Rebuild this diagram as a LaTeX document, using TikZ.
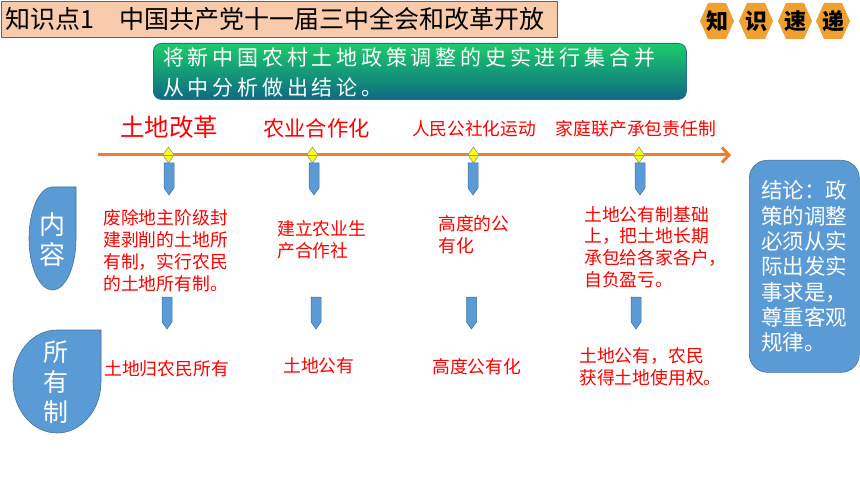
\documentclass[tikz,border=0pt]{standalone}
\usepackage{fontspec}
\setmainfont{Noto Sans CJK SC}
\newfontfamily\gfont[LetterSpace=18]{Noto Sans CJK SC}
\usetikzlibrary{arrows.meta}
\definecolor{titlefill}{HTML}{F8CBAD}
\definecolor{titleedge}{HTML}{7A5C4E}
\definecolor{hexfill}{HTML}{F0A033}
\definecolor{tlorange}{HTML}{ED7D31}
\definecolor{blueA}{HTML}{5B9BD5}
\definecolor{blueEdge}{HTML}{41719C}
\definecolor{redT}{HTML}{FF0000}
\definecolor{greenTop}{HTML}{1CCB6B}
\definecolor{greenBot}{HTML}{0F6A82}
\definecolor{greenEdge}{HTML}{2C6E8A}
\definecolor{diaEdge}{HTML}{8497B0}
\definecolor{diaFill}{HTML}{FFFF00}
\begin{document}
\begin{tikzpicture}[x=1pt,y=-1pt,
  redtext/.style={text=redT, align=left, inner sep=0pt, anchor=west},
  bluedrop/.style={fill=blueA, draw=blueEdge, line width=0.6pt},
  sidetext/.style={text=white, align=center, inner sep=0pt},
  hexbox/.style={fill=hexfill, draw=none},
  hextext/.style={font=\bfseries\fontsize{22}{22}\selectfont, text=black, inner sep=0pt},
  diamondmark/.style={fill=diaFill, draw=diaEdge, line width=0.6pt},
  downmark/.style={fill=blueA, draw=blueEdge, line width=0.5pt}
]
\useasboundingbox (0,0) rectangle (860,484);
\fill[white] (0,0) rectangle (860,484);

% title bar
\node[draw=titleedge, fill=titlefill, line width=1.2pt, minimum width=556pt, minimum height=36pt,
      anchor=north west, inner sep=0pt] (titlebar) at (0.6,0.6) {};
\node[anchor=west, inner sep=0pt, font=\fontsize{25}{25}\selectfont] (title) at (5,19)
  {知识点1　中国共产党十一届三中全会和改革开放};

% hexagons
\foreach \cx/\ch/\nm in {717/知/hexa, 756/识/hexb, 795/速/hexc, 833/递/hexd}{
  \fill[hexbox] (\cx-17,21) -- (\cx-9,3) -- (\cx+9,3) -- (\cx+17,21) -- (\cx+9,39) -- (\cx-9,39) -- cycle;
  \node[hextext] (\nm) at (\cx,21) {\ch};
}

% green intro box
\node[draw=greenEdge, line width=0.8pt, top color=greenTop, bottom color=greenBot, rounded corners=8pt,
      minimum width=533pt, minimum height=56pt, anchor=north west, inner sep=0pt] (intro) at (153,43) {};
\node[anchor=west, inner sep=0pt, text=white, align=left,
      font=\gfont\fontsize{21}{30}\selectfont] (introtext) at (163,72)
  {将新中国农村土地政策调整的史实进行集合并\\从中分析做出结论。};

% timeline
\coordinate (tlstart) at (98,155);
\coordinate (tlend) at (731,155);
\draw[tlorange, line width=3pt, -{Straight Barb[length=7pt,width=15pt]}] (tlstart) -- (tlend);

% timeline labels
\node[text=redT, inner sep=0pt, font=\fontsize{24.5}{24.5}\selectfont] (t1) at (169,127) {土地改革};
\node[text=redT, inner sep=0pt, font=\fontsize{21.3}{21.3}\selectfont] (t2) at (316.5,128) {农业合作化};
\node[text=redT, inner sep=0pt, font=\fontsize{17.7}{17.7}\selectfont] (t3) at (474,129) {人民公社化运动};
\node[text=redT, inner sep=0pt, font=\fontsize{17.8}{17.8}\selectfont] (t4) at (636,129) {家庭联产承包责任制};

% diamonds on the timeline
\foreach \dx in {168.5, 312.5, 473.5, 639}{
  \filldraw[diamondmark] (\dx,147) -- (\dx+5.5,155) -- (\dx,163) -- (\dx-5.5,155) -- cycle;
  \draw[diaEdge, line width=0.5pt] (\dx-5.5,155) -- (\dx+5.5,155);
}

% blue down marks, first row
\foreach \ax in {169, 314, 473, 640}{
  \filldraw[downmark] (\ax-5,163) -- (\ax+5,163) -- (\ax+5,188) -- (\ax,195) -- (\ax-5,188) -- cycle;
}
% blue down marks, second row
\foreach \ax in {167, 316, 471.5, 636}{
  \filldraw[downmark] (\ax-5,297) -- (\ax+5,297) -- (\ax+5,322) -- (\ax,329) -- (\ax-5,322) -- cycle;
}

% side shapes
\filldraw[bluedrop] (76,187) -- (76,238.5) arc[start angle=0, end angle=270, x radius=23.5, y radius=51.5] -- cycle;
\node[sidetext, font=\fontsize{26}{30}\selectfont] (neirong) at (52.5,240) {内\\容};
\filldraw[bluedrop] (101,330) -- (101,381.5) arc[start angle=0, end angle=270, x radius=44, y radius=51.5] -- cycle;
\node[sidetext, font=\fontsize{25}{30}\selectfont] (suoyouzhi) at (56,382) {所\\有\\制};

% content texts
\begin{scope}[every node/.append style={font=\fontsize{17.8}{21.8}\selectfont}]
\node[redtext] (c1) at (103,250.5) {废除地主阶级封\\建剥削的土地所\\有制，实行农民\\的土地所有制。};
\node[redtext] (c2) at (277,239.5) {建立农业生\\产合作社};
\node[redtext] (c3) at (438,235) {高度的公\\有化};
\node[redtext] (c4) at (584,247) {土地公有制基础\\上，把土地长期\\承包给各家各户，\\自负盈亏。};
\node[redtext] (o1) at (104,369) {土地归农民所有};
\node[redtext] (o2) at (283,366) {土地公有};
\node[redtext] (o3) at (432,367) {高度公有化};
\node[redtext] (o4) at (579,366.5) {土地公有，农民\\获得土地使用权。};
\end{scope}

% conclusion box
\node[fill=blueA, draw=blueEdge, line width=0.6pt, rounded corners=18pt, minimum width=110pt,
      minimum height=212pt, anchor=north west, inner sep=0pt] (concl) at (749,160) {};
\node[text=white, align=left, inner sep=0pt, font=\fontsize{21.5}{25.3}\selectfont] (concltext)
  at (804,266.5) {结论：政\\策的调整\\必须从实\\际出发实\\事求是，\\尊重客观\\规律。};
\end{tikzpicture}
\end{document}
